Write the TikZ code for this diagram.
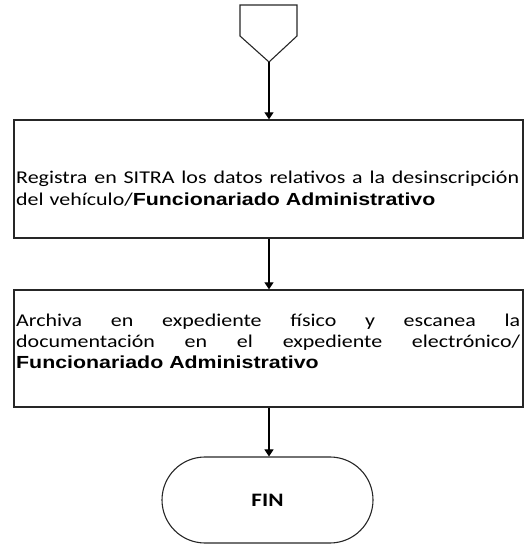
\documentclass[tikz,border=0pt]{standalone}
\usepackage{fontspec}
\setmainfont{Carlito}[FakeStretch=1.22]
\newfontfamily\headfont{Liberation Sans}[FakeStretch=1.22]
\usetikzlibrary{arrows.meta,shapes.misc}
\newcommand{\who}{{\headfont\bfseries\fontsize{17.5}{21}\selectfont Funcionariado Administrativo}}
% a line spread over a given width, words separated by \hfill
\newcommand{\fullline}[2]{\makebox[#1][l]{#2}}
\begin{document}
\begin{tikzpicture}[x=1pt,y=1pt,
  box/.style={draw=black!85,line width=1.3pt,minimum width=509pt,inner sep=0pt},
  body/.style={text width=506pt,inner sep=0pt,align=left,anchor=north west},
  flow/.style={draw=black,line width=1.1pt,-{Triangle[length=7pt,width=9pt]}},
  ender/.style={draw=black!85,line width=1.1pt,rounded rectangle,minimum width=211pt,minimum height=86pt,inner sep=0pt,font=\bfseries\fontsize{19}{22}\selectfont}]
\useasboundingbox (0,0) rectangle (524,544);
% off-page connector at the top
\draw[line width=1.1pt,draw=black!85] (240,539) -- (297,539) -- (297,508) -- (269,482) -- (240,508) -- cycle;
\coordinate (conn) at (269,482);
% process boxes
\node[box,minimum height=118pt] (b1) at (268.5,365) {};
\node[body,font=\fontsize{18}{22}\selectfont] (t1) at (16,373.5) {\fullline{503pt}{Registra\hfill en\hfill SITRA\hfill los\hfill datos\hfill relativos\hfill a\hfill la\hfill desinscripción}\\del vehículo/\who};
\node[box,minimum height=117pt] (b2) at (268.5,195.5) {};
\node[body,font=\fontsize{18}{21}\selectfont] (t2) at (16,230) {\fullline{504pt}{Archiva\hfill en\hfill expediente\hfill físico\hfill y\hfill escanea\hfill la}\\\fullline{504pt}{documentación\hfill en\hfill el\hfill expediente\hfill electrónico/}\\\who};
% terminator
\node[ender] (fin) at (267.5,44) {FIN};
% connectors
\draw[flow] (conn) -- (conn |- b1.north);
\draw[flow] (b1.south -| conn) -- (conn |- b2.north);
\draw[flow] (b2.south -| conn) -- (conn |- fin.north);
\end{tikzpicture}
\end{document}
